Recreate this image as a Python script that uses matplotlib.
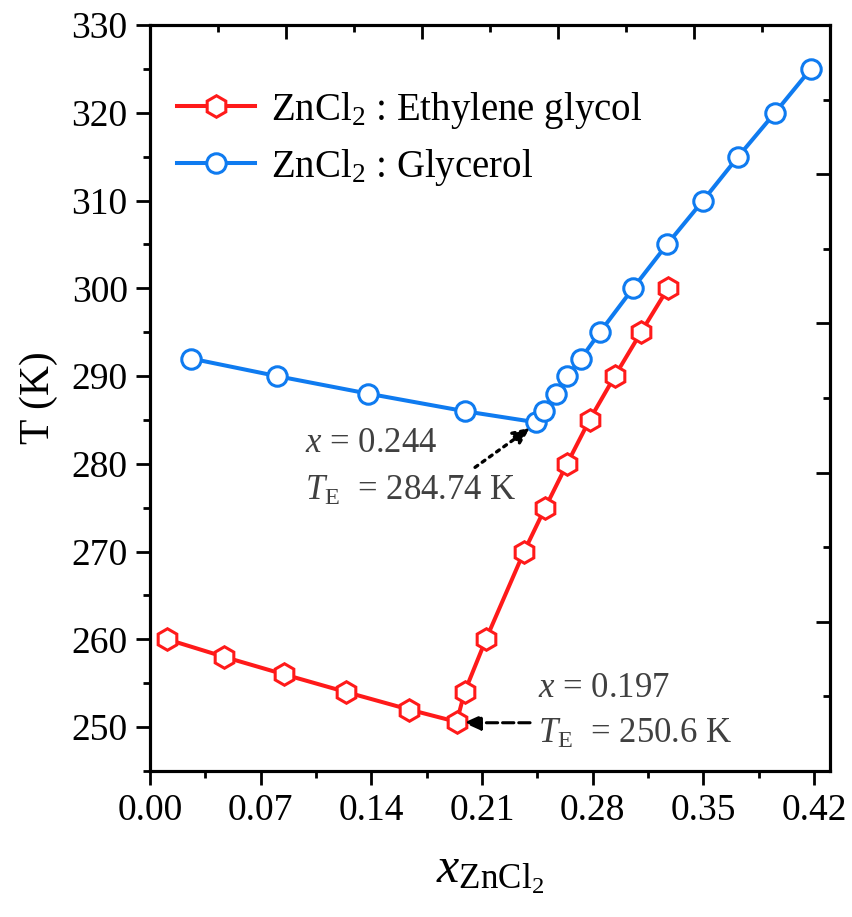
import matplotlib
matplotlib.use("Agg")
import matplotlib.pyplot as plt
import numpy as np

plt.rcParams['font.family'] = ['Liberation Serif', 'DejaVu Serif']
plt.rcParams['mathtext.fontset'] = 'custom'
plt.rcParams['mathtext.rm'] = 'Liberation Serif'
plt.rcParams['mathtext.it'] = 'Liberation Serif:italic'

# Data
eg_x = [0.011, 0.047, 0.085, 0.124, 0.164, 0.194, 0.199, 0.2125, 0.2366, 0.250, 0.2638, 0.278, 0.294, 0.3106, 0.3276]
eg_T = [260, 258, 256, 254, 252, 250.6, 254, 260, 270, 275, 280, 285, 290, 295, 300]

gly_x = [0.026, 0.0803, 0.138, 0.199, 0.244, 0.249, 0.257, 0.264, 0.2726, 0.2846, 0.3055, 0.327, 0.3498, 0.372, 0.3953, 0.418]
gly_T = [292, 290, 288, 286, 284.74, 286, 288, 290, 292, 295, 300, 305, 310, 315, 320, 325]

xticks = [0.00, 0.07, 0.14, 0.21, 0.28, 0.35, 0.42]
yticks = [250, 260, 270, 280, 290, 300, 310, 320, 330]

red = '#FF1A1A'
blue = '#0F7BF0'
gray = '#404040'

fig = plt.figure(figsize=(8.52, 9.17), dpi=100)
ax = fig.add_axes([0.176, 0.1592, 0.798, 0.8135])

ax.plot(eg_x, eg_T, '-', color=red, lw=2.9, marker='h', ms=15.5, mfc='white',
        mec=red, mew=2.2, label=r'ZnCl$_2$ : Ethylene glycol', zorder=3)
ax.plot(gly_x, gly_T, '-', color=blue, lw=2.9, marker='o', ms=14, mfc='white',
        mec=blue, mew=2.2, label=r'ZnCl$_2$ : Glycerol', zorder=3)

ax.set_xlim(0, 0.43)
ax.set_ylim(245, 330)
ax.set_xticks(xticks)
ax.set_xticklabels([f'{v:.2f}' for v in xticks])
ax.set_xticks(np.arange(0.035, 0.43, 0.07), minor=True)
ax.set_yticks(yticks)
ax.set_yticks(np.arange(245, 331, 10), minor=True)

for s in ax.spines.values():
    s.set_linewidth(2.2)
ax.tick_params(which='major', direction='out', length=10, width=2.0, labelsize=27, pad=6)
ax.tick_params(which='minor', direction='out', length=5, width=2.0)

# Opposite axes ticks (inward, no labels)
axr = ax.twinx()
axr.set_ylim(0, 1)
axr.set_yticks([0, 0.2, 0.4, 0.6, 0.8, 1.0])
axr.set_yticks([0.1, 0.3, 0.5, 0.7, 0.9], minor=True)
axr.tick_params(axis='y', which='major', direction='in', length=10, width=2.0, labelright=False)
axr.tick_params(axis='y', which='minor', direction='in', length=5, width=2.0)
axt = ax.twiny()
axt.set_xlim(0, 1)
axt.set_xticks([0.2, 0.4, 0.6, 0.8])
axt.set_xticks([0.1, 0.3, 0.5, 0.7, 0.9], minor=True)
axt.tick_params(axis='x', which='major', direction='in', length=10, width=2.0, labeltop=False)
axt.tick_params(axis='x', which='minor', direction='in', length=5, width=2.0)
for a in (axr, axt):
    for s in a.spines.values():
        s.set_linewidth(2.2)

ax.set_ylabel('T (K)', fontsize=30, labelpad=10)
ax.set_xlabel(r'$x_{\mathrm{ZnCl_2}}$', fontsize=36, labelpad=16)

leg = ax.legend(loc='upper left', bbox_to_anchor=(0.0, 0.95), frameon=False,
                fontsize=28, handlelength=2.0, handletextpad=0.4, labelspacing=0.42,
                borderaxespad=0.3)

# Annotations
ax.text(0.098, 281.3, r'$x$ = 0.244', fontsize=25, color=gray, va='baseline')
ax.text(0.098, 275.9, r'$T_{\mathrm{E}}$  = 284.74 K', fontsize=25, color=gray, va='baseline')
ax.annotate('', xy=(0.2404, 284.1), xytext=(0.2056, 279.6),
            arrowprops=dict(arrowstyle='-|>,head_length=1.0,head_width=0.45', ls=':', lw=2.4,
                            color='black', shrinkA=0, shrinkB=0))
ax.text(0.2454, 253.4, r'$x$ = 0.197', fontsize=25, color=gray, va='baseline')
ax.text(0.2454, 248.2, r'$T_{\mathrm{E}}$  = 250.6 K', fontsize=25, color=gray, va='baseline')
ax.annotate('', xy=(0.1985, 250.5), xytext=(0.2404, 250.5),
            arrowprops=dict(arrowstyle='-|>,head_length=1.0,head_width=0.45', ls='--', lw=2.2,
                            color='black', shrinkA=0, shrinkB=0))

fig.savefig('out.png', dpi=100)
